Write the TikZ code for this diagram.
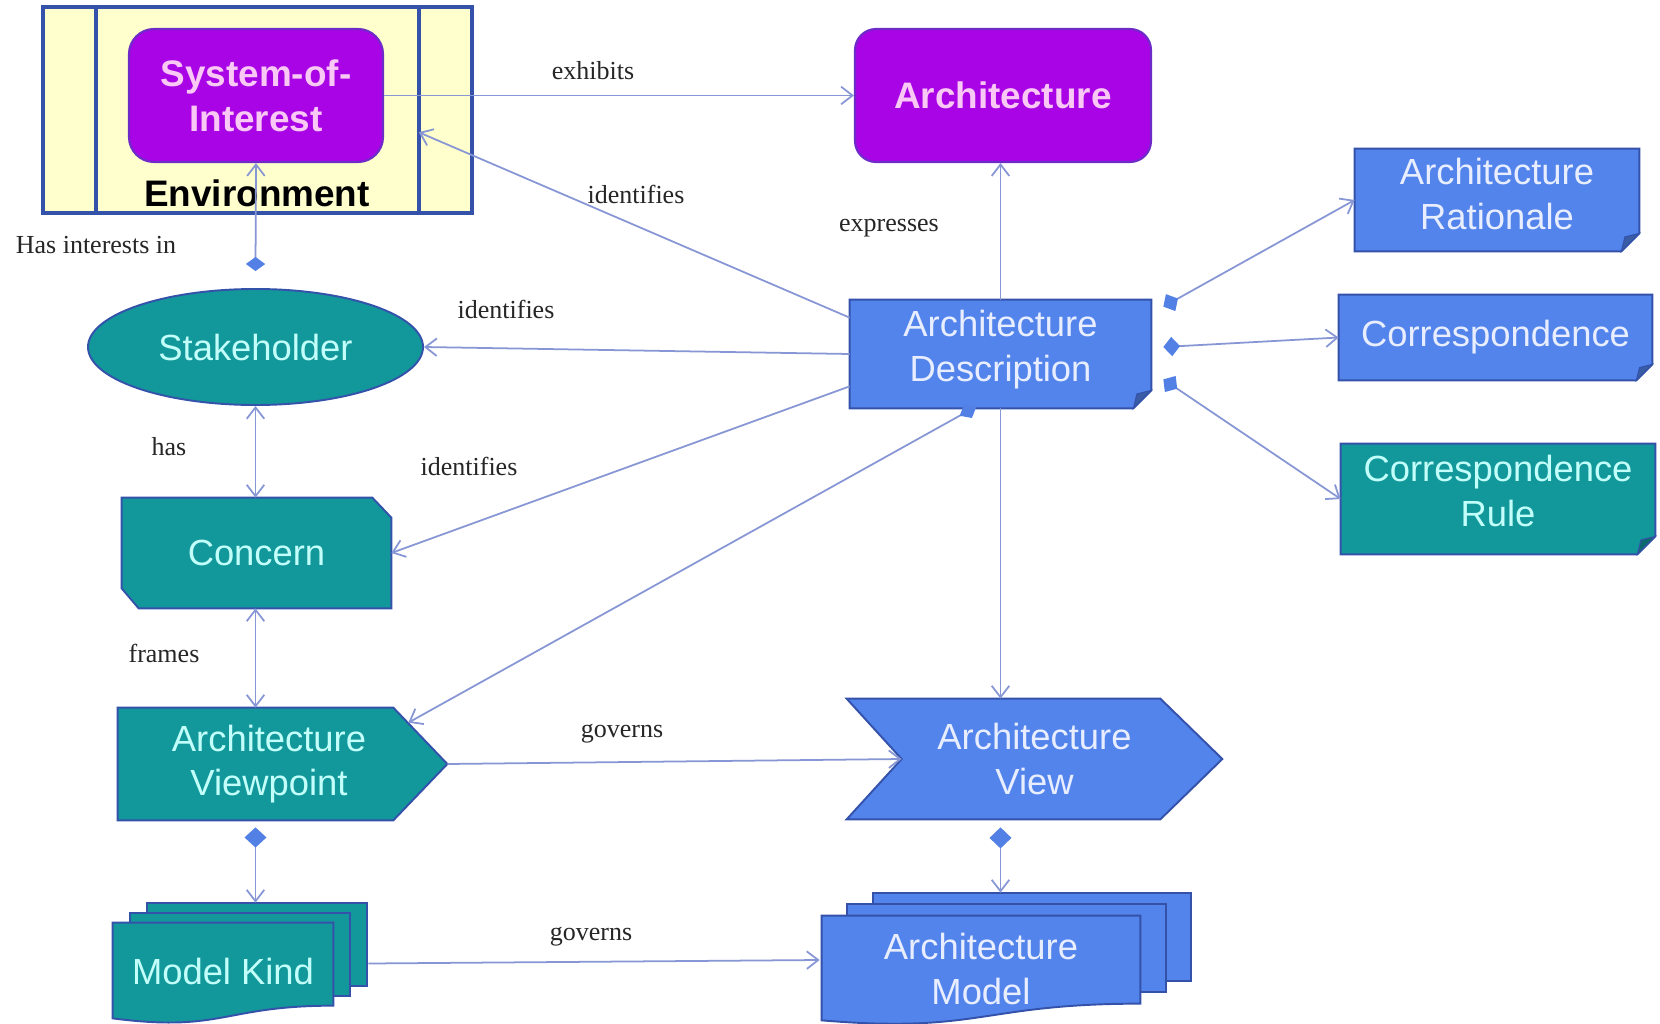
\documentclass[tikz,border=0pt]{standalone}
\usepackage{fontspec}
\setmainfont{Liberation Sans}
\newfontfamily\labelserif{Liberation Serif}
\usetikzlibrary{arrows.meta,shapes.geometric,calc,backgrounds}

\definecolor{tealfill}{RGB}{18,152,155}
\definecolor{tealtext}{RGB}{195,255,250}
\definecolor{bluefill}{RGB}{82,132,236}
\definecolor{bluetext}{RGB}{232,238,255}
\definecolor{purplefill}{RGB}{168,4,230}
\definecolor{purpletext}{RGB}{250,200,245}
\definecolor{edgeblue}{RGB}{52,82,170}
\definecolor{envfill}{RGB}{255,255,206}
\definecolor{linkblue}{RGB}{135,150,212}
\definecolor{diamondblue}{RGB}{82,128,228}

\tikzset{
  px/.style 2 args={minimum width=#1*0.02cm, minimum height=#2*0.02cm},
  base/.style={inner sep=0pt, align=center, font=\fontsize{20.7}{25.5}\selectfont},
  tealnode/.style={base, text=tealtext},
  bluenode/.style={base, text=bluetext},
  purplenode/.style={base, font=\fontsize{21}{25.5}\selectfont\bfseries, text=purpletext,
    fill=purplefill, draw=edgeblue!50!purplefill, line width=1.2pt, rounded corners=0.5cm},
  shapeline/.style={draw=edgeblue, line width=1.1pt, line join=miter},
  lbl/.style={inner sep=0pt, font=\labelserif\fontsize{14.8}{17}\selectfont, text=black!85},
  barb/.tip={Straight Barb[length=6.5pt,width=10pt]},
  rel/.style={draw=linkblue, line width=1pt, -barb},
  twoway/.style={draw=linkblue, line width=1pt, barb-barb},
  whole/.style 2 args={draw=linkblue, line width=1pt,
    {Diamond[length=#1,width=#2,color=diamondblue,fill=diamondblue]}-barb},
  wholeend/.style={draw=linkblue, line width=1pt,
    barb-{Diamond[length=11pt,width=9pt,color=diamondblue,fill=diamondblue]}},
}

% raise a block of text by leaving an extra shortened line below it
\newcommand\liftby[1]{\\[\dimexpr -25.5pt+#1\relax]\mbox{}}

% box with a folded lower right corner
\newcommand\foldedbox[3]{%
  \filldraw[shapeline, fill=#2] (#1.north west) -- (#1.north east)
    -- ($(#1.south east)+(0,-#3)$) -- ($(#1.south east)+(-#3,0)$)
    -- (#1.south west) -- cycle;
  \filldraw[shapeline, line width=0.6pt, fill=#2!70!black]
    ($(#1.south east)+(0,-#3)$) -- ($(#1.south east)+(-#3,0)$)
    -- ($(#1.south east)+(-0.8*#3,-0.8*#3)$) -- cycle;
}

% stack of three sheets, the front one with a wavy lower edge
\newcommand\sheetstack[6]{%
  % #1 node, #2 fill, #3/#4 sheet offset, #5 right drop, #6 wave low point
  \filldraw[shapeline, fill=#2] ($(#1.north west)+(2*#3,2*#4)$) -- ($(#1.north east)+(2*#3,2*#4)$)
    -- ($(#1.north east)+(2*#3,2*#4+#5)$) -- ($(#1.north west)+(2*#3,2*#4+#5)$) -- cycle;
  \filldraw[shapeline, fill=#2] ($(#1.north west)+(#3,#4)$) -- ($(#1.north east)+(#3,#4)$)
    -- ($(#1.north east)+(#3,#4+#5)$) -- ($(#1.north west)+(#3,#4+#5)$) -- cycle;
  \filldraw[shapeline, fill=#2] (#1.north west) -- (#1.north east)
    -- ($(#1.north east)+(0,#5)$)
    .. controls ($(#1.north)+(0,#5)$) and ($(#1.north)+(0,#6)$) .. ($(#1.south west)+(0,-2)$)
    -- cycle;
}

\begin{document}
\begin{tikzpicture}[x=0.02cm, y=-0.02cm]
\useasboundingbox (0,0) rectangle (1660,1024);

% ---------------- environment and system ----------------
\node[px={429}{206}, inner sep=0pt, fill=envfill, draw=edgeblue, line width=2pt] (env) at (257.5,110) {};
\draw[edgeblue, line width=2pt] ($(env.north west)+(55,0)$) -- ($(env.south west)+(55,0)$);
\draw[edgeblue, line width=2pt] ($(env.north east)+(-55,0)$) -- ($(env.south east)+(-55,0)$);
\node[inner sep=0pt, font=\fontsize{21}{25}\selectfont\bfseries] (envtxt) at (257,193) {Environment};
\node[purplenode, px={254}{133}] (soi) at (256,95.5) {System-of-\\Interest};
\node[purplenode, px={296}{133}, rounded corners=0.42cm] (arch) at (1003,95.5) {Architecture};

% ---------------- remaining concepts ----------------
\node[bluenode, px={301}{108}] (ad) at (1000.5,354) {Architecture\\Description\liftby{9pt}};
\node[bluenode, px={284}{102}] (rat) at (1497,200) {Architecture\\Rationale\liftby{6.8pt}};
\node[bluenode, px={313}{85}] (cor) at (1495.5,337.5) {\raisebox{3.6pt}{Correspondence}};
\node[tealnode, px={314}{110}] (crule) at (1498,499) {Correspondence\\Rule\liftby{9pt}};
\node[tealnode, ellipse, px={335}{116}, fill=tealfill, draw=edgeblue, line width=1.1pt] (sh) at (255.5,347) {Stakeholder};
\node[tealnode, px={269}{110}] (cn) at (256.5,553) {Concern};
\node[tealnode, px={302}{112}] (vp) at (269,764) {Architecture\\Viewpoint};
\node[bluenode, px={375}{120}] (view) at (1034.5,759) {Architecture\\View};
\node[tealnode, px={220}{97}] (mk) at (223,971.5) {Model Kind};
\node[bluenode, px={318}{106}] (am) at (981,969) {Architecture\\Model};

% ---------------- custom outlines behind the texts ----------------
\begin{pgfonlayer}{background}
  \fill[white] (0,0) rectangle (1660,1024);
  \foldedbox{ad}{bluefill}{18}
  \foldedbox{rat}{bluefill}{18}
  \foldedbox{cor}{bluefill}{16}
  \foldedbox{crule}{tealfill}{18}
  \filldraw[shapeline, fill=tealfill] (cn.north west) -- ($(cn.north east)+(-19,0)$)
    -- ($(cn.north east)+(0,20)$) -- (cn.south east) -- ($(cn.south west)+(17,0)$)
    -- ($(cn.south west)+(0,-20)$) -- cycle;
  % viewpoint: pointed plate reaching 27px past the node box
  \filldraw[shapeline, fill=tealfill] (vp.north west) -- ($(vp.north east)+(-27,0)$)
    -- ($(vp.east)+(27,0)$) -- ($(vp.south east)+(-27,0)$) -- (vp.south west) -- cycle;
  \filldraw[shapeline, fill=bluefill] (view.north west) -- ($(view.north east)+(-62,0)$)
    -- (view.east) -- ($(view.south east)+(-62,0)$) -- (view.south west)
    -- ($(view.west)+(55,0)$) -- cycle;
  \sheetstack{mk}{tealfill}{17}{-10}{83}{110}
  \sheetstack{am}{bluefill}{25.5}{-11.5}{88}{118}
\end{pgfonlayer}

% ---------------- relation labels ----------------
\node[lbl] (lexhibits) at (593,71) {exhibits};
\node[lbl] (lidsoi) at (636,194) {identifies};
\node[lbl] (lexpresses) at (889,228) {expresses};
\node[lbl] (lidsh) at (506,309) {identifies};
\node[lbl] (lidcn) at (469,466) {identifies};
\node[lbl] (lhas) at (169,447) {has};
\node[lbl] (lframes) at (164,653) {frames};
\node[lbl] (lgovview) at (622,734) {governs};
\node[lbl] (lgovmodel) at (591,937) {governs};
\node[lbl] (linterests) at (96,245) {Has interests in};

% ---------------- relations ----------------
\draw[rel] (soi.east) -- (arch.west);
\draw[rel] ($(ad.north west)+(0,18)$) -- ($(env.north east)+(-55,127)$);
\draw[rel] (ad.north) -- (ad.north |- arch.south);
\draw[rel] (ad.west) -- (sh.east);
\draw[rel] ($(ad.south west)+(0,-22)$) -- (cn.east);
\draw[rel] (ad.south) -- (ad.south |- view.north);
\draw[wholeend] ($(vp.north east)+(-12,15)$) -- ($(ad.south)+(-24,-2)$);
\draw[rel] ($(vp.east)+(27,0)$) -- ($(view.west)+(55,0)$);
\draw[rel] ($(mk.east)+(35,-8)$) -- ($(am.west)+(-2,-9)$);

\draw[whole={8pt}{11pt}] ($(sh.north)+(0,-17)$) -- (soi.south);
\draw[twoway] (sh.south) -- (sh.south |- cn.north);
\draw[twoway] (sh.south |- cn.south) -- (sh.south |- vp.north);
\draw[whole={11.5pt}{12.5pt}] ($(sh.south |- vp.south)+(0,7)$) -- ($(sh.south |- mk.north)+(0,-20)$);
\draw[whole={12pt}{12.5pt}] ($(ad.south |- view.south)+(0,8)$) -- ($(ad.south |- am.north)+(0,-23)$);

\draw[whole={9.5pt}{11pt}] ($(ad.north east)+(12,7)$) -- (rat.west);
\draw[whole={9.5pt}{11pt}] ($(ad.east)+(12,-7)$) -- (cor.west);
\draw[whole={9.5pt}{11pt}] ($(ad.south east)+(12,-29)$) -- (crule.west);
\end{tikzpicture}
\end{document}
